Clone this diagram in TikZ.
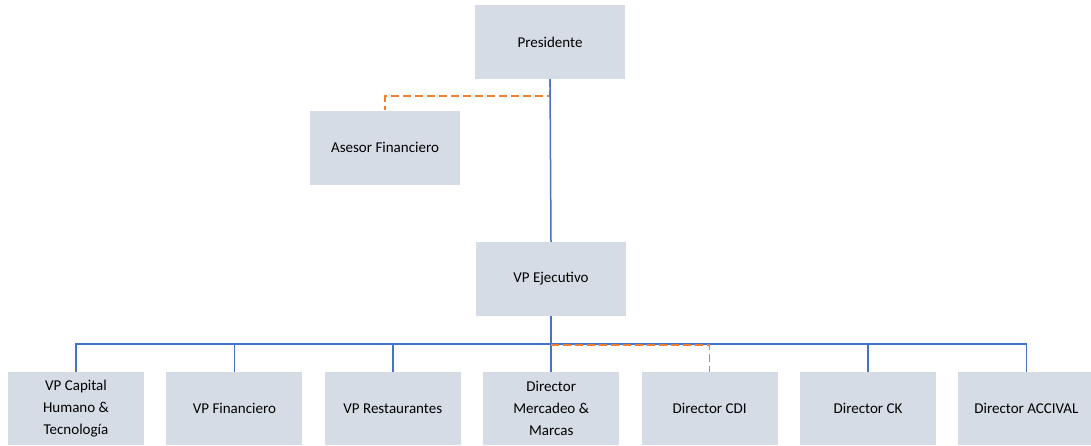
\documentclass[tikz,border=0pt]{standalone}
\usepackage{fontspec}
\setmainfont{Carlito}
\usepackage{tikz}
\usetikzlibrary{positioning}

\definecolor{boxgray}{RGB}{214,220,229}
\definecolor{linkblue}{RGB}{68,114,196}
\definecolor{linkorange}{RGB}{237,125,49}

\begin{document}
\begin{tikzpicture}[x=1pt,y=-1pt,
    box/.style={fill=boxgray,minimum width=136pt,minimum height=73pt,align=center,inner sep=2pt,font=\fontsize{15}{22}\selectfont},
    wide box/.style={box,minimum width=150pt,minimum height=74pt},
    solid link/.style={draw=linkblue,line width=1.5pt},
    dashed link/.style={draw=linkorange,line width=1.5pt,dash pattern=on 8pt off 4pt}]
    \useasboundingbox (0,0) rectangle (1091,445);
    \node[wide box] (Presidente) at (550,42) {Presidente};
    \node[wide box] (Asesor) at (385,147.5) {Asesor Financiero};
    \node[wide box] (VP Ejecutivo) at (551,279) {VP Ejecutivo};
    \node[box] (VP Capital) at (76,408.5) {VP Capital\\Humano \&\\Tecnología};
    \node[box,right=22pt of VP Capital] (VP Financiero) {VP Financiero};
    \node[box,right=22pt of VP Financiero] (VP Restaurantes) {VP Restaurantes};
    \node[box,right=22pt of VP Restaurantes] (Director Mercadeo) {Director\\Mercadeo \&\\Marcas};
    \node[box,right=22pt of Director Mercadeo] (Director CDI) {Director CDI};
    \node[box,right=22pt of Director CDI] (Director CK) {Director CK};
    \node[box,right=22pt of Director CK] (Director ACCIVAL) {Director ACCIVAL};
    % dotted-line advisor
    \draw[dashed link] (Presidente.south) -- ++(0,17) -| (Asesor.north);
    \draw[solid link] (Presidente.south) -- (VP Ejecutivo.north);
    % reports of the executive VP
    \foreach \n in {VP Capital, VP Financiero, VP Restaurantes, Director Mercadeo, Director CK, Director ACCIVAL}
      \draw[solid link] (VP Ejecutivo.south) -- ++(0,28) -| (\n.north);
    \draw[dashed link] (VP Ejecutivo.south) ++(0,28.8) -| (Director CDI.north);
\end{tikzpicture}
\end{document}
